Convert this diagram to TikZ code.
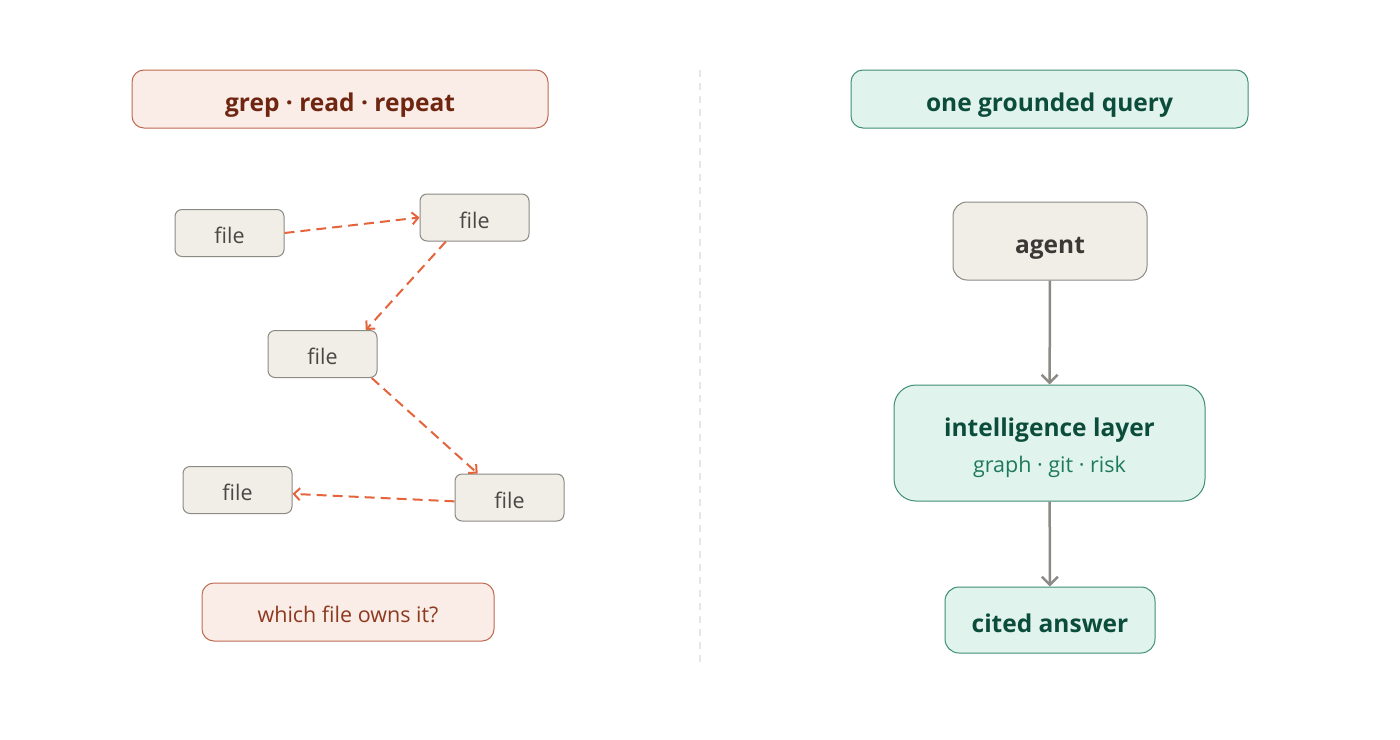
\documentclass[tikz,border=0pt]{standalone}
\usepackage{fontspec}
\setmainfont{Open Sans}
\usetikzlibrary{arrows.meta}

\definecolor{pinkfill}{HTML}{FAECE7}
\definecolor{pinkline}{HTML}{BF6A52}
\definecolor{pinktext}{HTML}{6E2611}
\definecolor{asktext}{HTML}{8E3A1F}
\definecolor{greenfill}{HTML}{E1F3ED}
\definecolor{greenline}{HTML}{3F8F73}
\definecolor{greentext}{HTML}{0B4D3A}
\definecolor{subtext}{HTML}{1D7A5C}
\definecolor{filefill}{HTML}{F1EEE8}
\definecolor{fileline}{HTML}{8C8A84}
\definecolor{filetext}{HTML}{4A4845}
\definecolor{agenttext}{HTML}{3A3936}
\definecolor{hopcol}{HTML}{E4643C}
\definecolor{flowcol}{HTML}{8C8A84}
\definecolor{splitcol}{HTML}{E6E6E6}

\begin{document}
\begin{tikzpicture}[x=1pt,y=-1pt,
    bigtext/.style={font=\fontsize{24.5}{29}\selectfont\bfseries, text height=25pt, text depth=0pt},
    smalltext/.style={font=\fontsize{21.5}{26}\selectfont, text height=21.5pt, text depth=0pt},
    redbox/.style={draw=pinkline, fill=pinkfill, text=pinktext, line width=1pt, rounded corners=12pt},
    greenbox/.style={draw=greenline, fill=greenfill, text=greentext, line width=1pt},
    filebox/.style={draw=fileline, fill=filefill, text=filetext, line width=1pt, rounded corners=7pt,
        minimum width=109pt, minimum height=47pt, smalltext},
    hop/.style={draw=hopcol, line width=2pt, dash pattern=on 10pt off 6pt,
        -{Straight Barb[length=6pt,width=12pt]}},
    flow/.style={draw=flowcol, line width=2.5pt, -{Straight Barb[length=8pt,width=16pt]}}]

    \useasboundingbox[fill=white] (0,0) rectangle (1400,739);

    % left: grep loop
    \node[redbox, bigtext, minimum width=416pt, minimum height=58pt] (loop) at (340,99) {grep · read · repeat};

    \node[filebox] (f1) at (229.5,233) {file};
    \node[filebox] (f2) at (474.5,217.5) {file};
    \node[filebox] (f3) at (322.5,354) {file};
    \node[filebox] (f4) at (509.5,497.5) {file};
    \node[filebox] (f5) at (237.5,490) {file};

    \draw[hop] (f1.east) to (f2.west);
    \draw[hop] (f2.220) to (f3.29);
    \draw[hop] (f3.-26) to (f4.143);
    \draw[hop] (f4.184) to (f5.-4);

    \node[redbox, text=asktext, minimum width=292pt, minimum height=58pt,
        smalltext, text height=20pt] (ask) at (348,612) {which file owns it?};

    % divider
    \draw[splitcol, line width=1.5pt, dash pattern=on 7pt off 6pt] (700,70) to (700,668);

    % right: one query
    \node[greenbox, bigtext, rounded corners=12pt, minimum width=397pt, minimum height=58pt] (query) at (1049.5,99) {one grounded query};

    \node[draw=fileline, fill=filefill, text=agenttext, line width=1pt, rounded corners=14pt, bigtext,
        minimum width=194pt, minimum height=78pt] (agent) at (1050,241) {agent};

    \node[greenbox, rounded corners=22pt, minimum width=311pt, minimum height=116pt, align=center,
        font=\fontsize{24.5}{29}\selectfont\bfseries] (layer) at (1049.5,443)
        {\rule[-6pt]{0pt}{34pt}intelligence layer\\
         \rule[-5pt]{0pt}{34pt}{\fontsize{21.5}{26}\selectfont\mdseries\color{subtext}graph · git · risk}};

    \node[greenbox, rounded corners=14pt, bigtext, minimum width=210pt, minimum height=66pt] (answer) at (1050,620) {cited answer};

    \draw[flow] (agent) to (layer);
    \draw[flow] (layer) to (answer);

\end{tikzpicture}
\end{document}
